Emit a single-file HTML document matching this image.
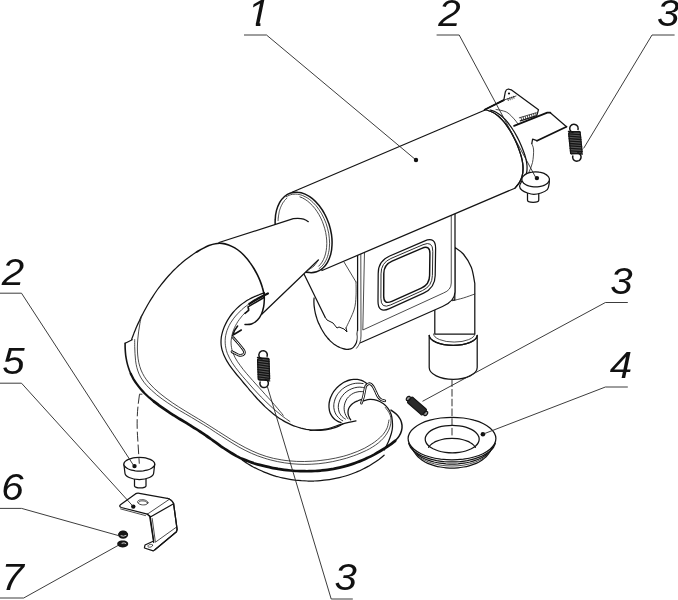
<!DOCTYPE html>
<html><head><meta charset="utf-8"><title>Exhaust system</title>
<style>
html,body{margin:0;padding:0;background:#fff;}
body{width:678px;height:600px;overflow:hidden;}
svg{display:block;}
path,ellipse,circle{stroke-linecap:round;stroke-linejoin:round;}
.m{fill:none;stroke:#141414;stroke-width:1.25;}
.mw{fill:#fff;stroke:#141414;stroke-width:1.25;}
.b{fill:none;stroke:#111;stroke-width:1.8;}
.t{fill:none;stroke:#2c2c2c;stroke-width:0.85;}
.tw{fill:#fff;stroke:#2c2c2c;stroke-width:0.85;}
.l{fill:none;stroke:#262626;stroke-width:0.9;stroke-linecap:butt;}
.d{fill:none;stroke:#262626;stroke-width:0.95;stroke-dasharray:7 4;stroke-linecap:butt;}
.w{fill:#fff;stroke:none;}
.k{fill:#111;stroke:none;}
text{font-family:"Liberation Sans",sans-serif;font-style:italic;font-size:36.6px;fill:#111;}
</style></head><body>
<svg width="678" height="600" viewBox="0 0 678 600">
<rect width="678" height="600" fill="#fff"/>
<path class="mw" d="M454.8 247.3C456.2 248.4 460.6 250.7 463.3 254C466.1 257.3 469.4 262.4 471.3 267.3C473.2 272.2 474.2 280.6 474.8 283.3L474.8 334L434.8 334L434.8 300L454.8 300Z"/>
<path class="t" d="M452.7 300.7C454.5 300.2 459.6 299.1 463.3 298C467 296.9 472.9 294.7 474.8 294"/>
<path class="mw" d="M429.2 335.3L429.2 367.5A24 11.8 0 0 0 477.2 367.5L477.2 335.3A24 10 0 0 1 429.2 335.3Z"/>
<path class="m" d="M429.2 335.3A24 10 0 0 0 477.2 335.3"/>
<path class="t" d="M433.5 334A20.5 8 0 0 0 474.8 334"/>
<path class="w" d="M304 274L314.1 298C314 298.5 313.9 300.2 313.9 301.3C313.9 302.4 314 303.5 314 304.6C314.1 305.7 314.2 306.8 314.4 307.8C314.5 308.9 314.7 310 314.9 311C315.1 312.1 315.3 313.2 315.6 314.2C315.8 315.2 316.1 316.3 316.5 317.3C316.8 318.3 317.1 319.4 317.5 320.4C317.9 321.4 318.3 322.4 318.7 323.4C319.2 324.4 319.6 325.3 320.1 326.3C320.6 327.3 321.1 328.3 321.6 329.2C322.2 330.2 322.7 331.1 323.3 332C323.9 333 324.5 333.9 325.1 334.8C325.8 335.7 326.4 336.5 327.1 337.4C327.8 338.2 328.5 339.1 329.3 339.8C330 340.6 330.8 341.4 331.6 342.1C332.4 342.8 333.2 343.5 334.1 344.2C335 344.8 335.9 345.4 336.9 346C337.8 346.5 338.8 347 339.8 347.5C340.8 347.9 341.9 348.4 343 348.7C344 349 345.1 349.2 346.2 349.3C347.2 349.4 348.3 349.4 349.3 349.2C350.3 349 351.2 348.7 352.1 348.2C353 347.7 353.8 346.9 354.4 346C355.1 345.2 355.7 344 356.2 342.9C356.6 341.9 357 340.6 357.2 339.6C357.4 338.5 357.4 337.5 357.4 336.5C357.4 335.6 357.1 334.9 357.1 333.8C357.2 332.8 357.5 330.7 357.6 330L357.6 256L329 267Z"/>
<path class="m" d="M314.1 298C314 298.5 313.9 300.2 313.9 301.3C313.9 302.4 314 303.5 314 304.6C314.1 305.7 314.2 306.8 314.4 307.8C314.5 308.9 314.7 310 314.9 311C315.1 312.1 315.3 313.2 315.6 314.2C315.8 315.2 316.1 316.3 316.5 317.3C316.8 318.3 317.1 319.4 317.5 320.4C317.9 321.4 318.3 322.4 318.7 323.4C319.2 324.4 319.6 325.3 320.1 326.3C320.6 327.3 321.1 328.3 321.6 329.2C322.2 330.2 322.7 331.1 323.3 332C323.9 333 324.5 333.9 325.1 334.8C325.8 335.7 326.4 336.5 327.1 337.4C327.8 338.2 328.5 339.1 329.3 339.8C330 340.6 330.8 341.4 331.6 342.1C332.4 342.8 333.2 343.5 334.1 344.2C335 344.8 335.9 345.4 336.9 346C337.8 346.5 338.8 347 339.8 347.5C340.8 347.9 341.9 348.4 343 348.7C344 349 345.1 349.2 346.2 349.3C347.2 349.4 348.3 349.4 349.3 349.2C350.3 349 351.2 348.7 352.1 348.2C353 347.7 353.8 346.9 354.4 346C355.1 345.2 355.7 344 356.2 342.9C356.6 341.9 357 340.6 357.2 339.6C357.4 338.5 357.4 337.5 357.4 336.5C357.4 335.6 357.1 334.9 357.1 333.8C357.2 332.8 357.5 330.7 357.6 330"/>
<path class="w" d="M357.6 255.1 L357.6 344 L361.9 342.2 L442.5 306.5 Q455 301 455 292 L455 213 Z"/>
<path class="m" d="M357.6 255.1 L357.6 330.5"/>
<path class="t" d="M360.8 253.7 L361 336 C361 341 359.5 345 356.5 348.3"/>
<path class="t" d="M364.5 252.1 L362.8 330 L443.5 293 Q451.25 290 451.25 283 L451.25 214.6"/>
<path class="m" d="M360.5 342.8 L442.5 306.5 Q455 301 455 292 L455 213"/>
<path class="m" d="M378.2 273.4Q378.2 260.9 389.7 256L424.3 241.1Q435.8 236.2 435.6 248.7L435.2 275.5Q435 288 423.6 293.1L389.4 308.6Q378 313.7 378 301.2Z"/>
<path class="t" d="M381 273.5Q381 262.7 390.9 258.5L423 244.7Q432.9 240.5 432.8 251.3L432.4 275.4Q432.2 286.2 422.4 290.6L390.7 304.9Q380.8 309.4 380.9 298.6Z" style="stroke-width:1"/>
<path class="b" d="M383.8 273.6Q383.8 264.6 392.1 261.1L421.8 248.3Q430.1 244.8 429.9 253.8L429.6 275.4Q429.5 284.4 421.3 288.1L391.8 301.3Q383.6 305 383.7 296Z" style="stroke-width:1.45"/>
<path class="m" d="M304 274L325 317"/>
<path class="t" d="M344 262L356 282"/>
<path class="t" d="M356 282C356 284.3 356.3 291.3 356 296C355.7 300.7 355.7 304.7 354 310C352.3 315.3 347.3 325 346 328"/>
<path class="m" d="M325 317L327 320L333 323L337 328L339 327L344 329L347 332L346 328" style="stroke-width:1"/>
<path class="mw" d="M292 192.3L485.7 109.7C486.7 110 490.1 111 492.1 112C494.1 112.9 495.9 114.2 497.6 115.5C499.3 116.9 500.9 118.5 502.4 120.1C503.9 121.7 505.3 123.5 506.6 125.3C507.9 127.2 509.2 129.1 510.4 131.1C511.6 133 512.7 135.1 513.7 137.2C514.8 139.2 515.8 141.4 516.7 143.5C517.6 145.7 518.4 147.9 519.2 150.1C520 152.3 520.7 154.5 521.3 156.7C521.9 158.9 522.4 161.1 522.7 163.3C523 165.5 523.1 167.7 523 169.8C523 172 522.7 174.1 522.1 176.2C521.5 178.3 520.7 180.4 519.5 182.4C518.3 184.4 515.7 187.3 514.9 188.2L322 270.5 Z"/>
<path class="mw" d="M329 224.1C330.1 227.5 330.9 231.1 331.5 234.5C332 238 332.2 241.6 332 244.9C331.9 248.2 331.5 251.5 330.7 254.4C329.9 257.3 328.8 260 327.5 262.4C326.2 264.7 324.5 266.7 322.7 268.3C320.9 269.9 318.8 271.1 316.6 271.8C314.4 272.5 312 272.8 309.6 272.6C307.2 272.5 304.6 271.8 302.1 270.7C299.7 269.6 297.2 268.1 294.8 266.2C292.5 264.3 290.2 261.9 288.1 259.3C286.1 256.7 284.1 253.8 282.5 250.7C280.8 247.6 279.4 244.1 278.2 240.7C277.1 237.3 276.3 233.7 275.7 230.3C275.2 226.8 275 223.2 275.2 219.9C275.3 216.6 275.7 213.3 276.5 210.4C277.3 207.5 278.4 204.8 279.7 202.4C281 200.1 282.7 198.1 284.5 196.5C286.3 194.9 288.4 193.7 290.6 193C292.8 192.3 295.2 192 297.6 192.2C300 192.3 302.6 193 305.1 194.1C307.5 195.2 310 196.7 312.4 198.6C314.7 200.5 317 202.9 319.1 205.5C321.1 208.1 323.1 211 324.7 214.1C326.4 217.2 327.8 220.7 329 224.1Z" style="stroke-width:1.5"/>
<path class="t" d="M286.2 196.8C286.7 196.6 288.1 195.7 289.1 195.3C290.2 194.9 291.2 194.5 292.3 194.3C293.4 194.2 294.5 194.1 295.6 194.1C296.8 194.1 297.9 194.2 299.1 194.5C300.3 194.7 301.5 195.1 302.6 195.5C303.8 196 305 196.6 306.1 197.2C307.3 197.9 308.5 198.6 309.6 199.5C310.7 200.4 311.9 201.3 312.9 202.4C314 203.4 315.1 204.5 316.1 205.7C317.1 207 318.1 208.2 319 209.6C320 210.9 320.9 212.4 321.7 213.8C322.5 215.3 323.3 216.8 324 218.4C324.7 219.9 325.4 221.6 326 223.2C326.6 224.8 327.1 226.5 327.5 228.2C328 229.8 328.4 231.5 328.7 233.2C329 234.9 329.2 236.6 329.3 238.2C329.5 239.9 329.6 241.6 329.6 243.2C329.6 244.8 329.5 246.4 329.3 247.9C329.2 249.5 329 251 328.6 252.4C328.3 253.9 328 255.3 327.5 256.6C327.1 257.9 326.5 259.2 325.9 260.4C325.4 261.5 324.7 262.6 324 263.6C323.3 264.6 322.5 265.6 321.7 266.4C320.8 267.2 319.4 268.2 319 268.6"/>
<path class="t" d="M299.9 196.9C300.3 197.1 301.7 197.5 302.5 197.9C303.4 198.4 304.2 198.8 305.1 199.4C306 199.9 306.8 200.5 307.7 201.2C308.5 201.8 309.3 202.5 310.1 203.3C310.9 204 311.7 204.8 312.5 205.7C313.3 206.5 314.1 207.4 314.8 208.4C315.5 209.3 316.2 210.3 316.9 211.3C317.6 212.3 318.3 213.4 318.9 214.5C319.5 215.6 320.1 216.7 320.7 217.9C321.2 219 321.8 220.2 322.3 221.4C322.8 222.6 323.2 223.8 323.6 225C324 226.3 324.4 227.5 324.8 228.8C325.1 230 325.4 231.3 325.7 232.5C325.9 233.8 326.1 235.1 326.3 236.3C326.5 237.6 326.6 238.8 326.7 240.1C326.7 241.3 326.8 242.5 326.8 243.7C326.8 244.9 326.7 246.1 326.6 247.3C326.5 248.4 326.4 249.6 326.2 250.7C326 251.8 325.8 252.9 325.5 253.9C325.3 255 325 256 324.6 256.9C324.3 257.9 323.9 258.8 323.4 259.7C323 260.6 322.5 261.4 322 262.2C321.5 263 321 263.7 320.4 264.4C319.8 265 318.9 265.9 318.6 266.2"/>
<path class="t" d="M286.9 198.2C286.8 198.3 286.5 198.6 286.2 198.8C286 199 285.8 199.2 285.6 199.4C285.4 199.6 285.2 199.8 285 200.1C284.8 200.3 284.6 200.5 284.4 200.7C284.3 201 284.1 201.2 283.9 201.5C283.7 201.7 283.5 202 283.3 202.2C283.2 202.5 283 202.7 282.8 203C282.7 203.3 282.5 203.6 282.3 203.8C282.2 204.1 282 204.4 281.9 204.7C281.7 205 281.6 205.3 281.4 205.6C281.3 205.9 281.2 206.2 281 206.5C280.9 206.8 280.8 207.1 280.6 207.4C280.5 207.7 280.4 208.1 280.3 208.4C280.2 208.7 280 209 279.9 209.4C279.8 209.7 279.7 210.1 279.6 210.4C279.5 210.7 279.4 211.1 279.3 211.4C279.3 211.8 279.2 212.1 279.1 212.5C279 212.9 278.9 213.2 278.9 213.6C278.8 213.9 278.7 214.3 278.7 214.7C278.6 215.1 278.5 215.4 278.5 215.8C278.4 216.2 278.4 216.6 278.4 216.9C278.3 217.3 278.3 217.7 278.2 218.1C278.2 218.5 278.2 218.9 278.2 219.3C278.1 219.7 278.1 220.3 278.1 220.5"/>
<path class="w" d="M219 243L293.3 218.7L308 221.5L318.3 260L262 314L240 300Z"/>
<path class="m" d="M219 242.5L293.3 218.7Q303 217.3 308.3 221.7"/>
<path class="m" d="M262 314L318.3 260"/>
<path class="t" d="M318.3 260C317.6 261 315.7 264.3 314 266C312.3 267.7 309 269.3 308 270"/>
<path class="w" d="M264 293.9C263.7 292.8 263 289.4 262.3 287.3C261.7 285.1 260.9 283 260.1 280.9C259.2 278.8 258.3 276.7 257.3 274.7C256.2 272.6 255.1 270.5 253.9 268.5C252.7 266.5 251.4 264.5 250 262.6C248.6 260.6 247.1 258.7 245.5 257C243.9 255.2 242.3 253.5 240.5 252C238.7 250.5 236.8 249.1 234.8 247.9C232.8 246.7 230.7 245.7 228.6 244.9C226.4 244.2 224.2 243.6 222 243.4C219.8 243.2 217.5 243.3 215.3 243.7C213.2 244 211 244.8 208.9 245.6C206.7 246.5 204.6 247.6 202.6 248.6C200.5 249.7 198.5 250.9 196.5 252.1C194.6 253.4 192.6 254.6 190.7 256C188.9 257.3 187 258.7 185.2 260.1C183.4 261.6 181.6 263.1 179.9 264.6C178.1 266.1 176.5 267.7 174.8 269.3C173.1 270.9 171.5 272.6 170 274.3C168.4 276 166.9 277.7 165.4 279.5C163.9 281.3 162.4 283.1 161 284.9C159.6 286.8 158.2 288.6 156.8 290.5C155.5 292.4 154.2 294.3 152.9 296.3C151.7 298.2 150.4 300.2 149.2 302.2C148 304.2 146.9 306.2 145.8 308.2C144.6 310.3 143.5 312.3 142.5 314.4C141.4 316.4 140.4 318.5 139.5 320.6C138.5 322.6 137.5 324.7 136.6 326.8C135.7 328.9 134.9 331 134 333.1C133.2 335.2 132 338.4 131.6 339.4L125.1 343.3C125.1 344.2 125.1 347.1 125.2 349.1C125.3 351.2 125.5 353.3 125.7 355.3C126 357.4 126.4 359.5 126.8 361.6C127.3 363.7 127.8 365.8 128.5 367.8C129.1 369.8 129.9 371.7 130.7 373.6C131.6 375.5 132.5 377.3 133.5 379.1C134.6 380.9 135.7 382.6 136.9 384.2C138.1 385.9 139.3 387.4 140.7 389C142 390.5 143.4 392 144.8 393.5C146.3 394.9 147.8 396.3 149.3 397.7C150.9 399 152.5 400.3 154.1 401.6C155.7 402.9 157.3 404.1 159 405.4C160.7 406.6 162.4 407.8 164.1 408.9C165.8 410.1 167.5 411.2 169.2 412.4C170.9 413.5 172.7 414.6 174.4 415.7C176.2 416.8 177.9 417.9 179.7 419C181.4 420 183.2 421.1 185 422.2C186.7 423.3 188.5 424.3 190.3 425.4C192 426.5 193.8 427.6 195.5 428.7C197.3 429.8 199 430.9 200.7 432C202.5 433.2 204.2 434.3 205.9 435.5C207.6 436.6 209.3 437.8 210.9 439C212.6 440.2 214.3 441.5 216 442.7C217.6 443.9 219.3 445.1 221 446.3C222.7 447.4 224.4 448.6 226.1 449.7C227.8 450.9 229.5 452 231.3 453C233 454.1 234.8 455.1 236.6 456.1C238.4 457 240.2 458 242.1 458.8C244 459.6 245.9 460.4 247.8 461.1C249.8 461.9 251.7 462.5 253.7 463.2C255.7 463.8 257.7 464.4 259.7 464.9C261.7 465.5 263.7 466 265.8 466.4C267.8 466.9 269.8 467.4 271.9 467.8C273.9 468.2 276 468.5 278 468.9C280.1 469.2 282.1 469.5 284.2 469.8C286.3 470.1 288.3 470.3 290.4 470.5C292.5 470.7 294.5 470.8 296.6 471C298.7 471.1 300.7 471.2 302.8 471.2C304.9 471.2 306.9 471.3 309 471.2C311 471.2 313.1 471.1 315.1 471C317.2 470.9 319.2 470.7 321.3 470.5C323.3 470.3 325.4 470.1 327.4 469.8C329.4 469.5 331.4 469.2 333.5 468.9C335.5 468.5 337.5 468.1 339.5 467.6C341.5 467.2 343.5 466.7 345.4 466.1C347.4 465.6 349.4 465 351.3 464.4C353.3 463.7 355.2 463.1 357.1 462.3C359.1 461.6 361 460.8 362.9 460C364.8 459.2 366.6 458.3 368.5 457.4C370.4 456.5 372.2 455.6 374.1 454.6C375.9 453.6 377.7 452.6 379.5 451.5C381.3 450.4 383.1 449.3 384.9 448.2C386.7 447 388.5 445.9 390.2 444.7C391.9 443.4 393.7 442.2 395.2 440.8C396.7 439.4 398.1 437.8 399.1 436.2C400.2 434.5 401 432.7 401.5 430.8C402 429 402.2 427.1 402 425.2C401.8 423.3 401.3 421.3 400.4 419.5C399.4 417.7 398.1 415.9 396.5 414.3C395 412.7 392 410.8 391 410.1L385 407.8C383.7 406.6 380.7 401.5 377 400.4C373.3 399.3 366.2 397.6 363 401C359.8 404.4 361.2 417 357.8 420.8C354.4 424.6 347.5 422.6 342.8 424C338.1 425.4 336.3 428.1 329.8 429C323.3 429.9 311.4 430.4 303.8 429.6C296.2 428.8 290.9 427.4 284.4 424C277.9 420.6 271.4 415.2 264.9 409.5C258.4 403.8 249.4 395 245.4 390C241.4 385 244.1 384.2 240.6 379.3C237.1 374.4 227.8 366 224.3 360.6C220.8 355.2 220 351.8 219.6 346.7C219.2 341.6 220.1 335.8 222 330.3C223.9 324.9 227.3 318.9 231.3 314C235.3 309.1 240.6 304.5 246 301C251.4 297.5 261 294.3 264 293Z"/>
<path class="b" d="M264 293.9C263.7 292.8 263 289.4 262.3 287.3C261.7 285.1 260.9 283 260.1 280.9C259.2 278.8 258.3 276.7 257.3 274.7C256.2 272.6 255.1 270.5 253.9 268.5C252.7 266.5 251.4 264.5 250 262.6C248.6 260.6 247.1 258.7 245.5 257C243.9 255.2 242.3 253.5 240.5 252C238.7 250.5 236.8 249.1 234.8 247.9C232.8 246.7 230.7 245.7 228.6 244.9C226.4 244.2 224.2 243.6 222 243.4C219.8 243.2 217.5 243.3 215.3 243.7C213.2 244 211 244.8 208.9 245.6C206.7 246.5 204.6 247.6 202.6 248.6C200.5 249.7 197.5 251.6 196.5 252.1" style="stroke-width:1.6"/>
<path class="m" d="M196.5 252.1C195.6 252.8 192.6 254.6 190.7 256C188.9 257.3 187 258.7 185.2 260.1C183.4 261.6 181.6 263.1 179.9 264.6C178.1 266.1 176.5 267.7 174.8 269.3C173.1 270.9 171.5 272.6 170 274.3C168.4 276 166.9 277.7 165.4 279.5C163.9 281.3 162.4 283.1 161 284.9C159.6 286.8 158.2 288.6 156.8 290.5C155.5 292.4 154.2 294.3 152.9 296.3C151.7 298.2 150.4 300.2 149.2 302.2C148 304.2 146.9 306.2 145.8 308.2C144.6 310.3 143.5 312.3 142.5 314.4C141.4 316.4 140.4 318.5 139.5 320.6C138.5 322.6 137.5 324.7 136.6 326.8C135.7 328.9 134.9 331 134 333.1C133.2 335.2 132 338.4 131.6 339.4"/>
<path class="m" d="M132.2 339.7L125.2 343.2"/>
<path class="m" d="M125.1 343.3C125.1 344.2 125.1 347.1 125.2 349.1C125.3 351.2 125.5 353.3 125.7 355.3C126 357.4 126.4 359.5 126.8 361.6C127.3 363.7 127.8 365.8 128.5 367.8C129.1 369.8 130.3 372.7 130.7 373.6" style="stroke-width:1.6"/>
<path class="b" d="M130.7 373.6C131.2 374.5 132.5 377.3 133.5 379.1C134.6 380.9 135.7 382.6 136.9 384.2C138.1 385.9 139.3 387.4 140.7 389C142 390.5 143.4 392 144.8 393.5C146.3 394.9 147.8 396.3 149.3 397.7C150.9 399 153.3 401 154.1 401.6" style="stroke-width:2.2"/>
<path class="b" d="M154.1 401.6C154.9 402.2 157.3 404.1 159 405.4C160.7 406.6 162.4 407.8 164.1 408.9C165.8 410.1 167.5 411.2 169.2 412.4C170.9 413.5 172.7 414.6 174.4 415.7C176.2 416.8 177.9 417.9 179.7 419C181.4 420 183.2 421.1 185 422.2C186.7 423.3 188.5 424.3 190.3 425.4C192 426.5 193.8 427.6 195.5 428.7C197.3 429.8 199 430.9 200.7 432C202.5 433.2 204.2 434.3 205.9 435.5C207.6 436.6 209.3 437.8 210.9 439C212.6 440.2 214.3 441.5 216 442.7C217.6 443.9 219.3 445.1 221 446.3C222.7 447.4 224.4 448.6 226.1 449.7C227.8 450.9 229.5 452 231.3 453C233 454.1 234.8 455.1 236.6 456.1C238.4 457 240.2 458 242.1 458.8C244 459.6 245.9 460.4 247.8 461.1C249.8 461.9 251.7 462.5 253.7 463.2C255.7 463.8 257.7 464.4 259.7 464.9C261.7 465.5 263.7 466 265.8 466.4C267.8 466.9 269.8 467.4 271.9 467.8C273.9 468.2 276 468.5 278 468.9C280.1 469.2 282.1 469.5 284.2 469.8C286.3 470.1 288.3 470.3 290.4 470.5C292.5 470.7 294.5 470.8 296.6 471C298.7 471.1 300.7 471.2 302.8 471.2C304.9 471.2 306.9 471.3 309 471.2C311 471.2 313.1 471.1 315.1 471C317.2 470.9 319.2 470.7 321.3 470.5C323.3 470.3 325.4 470.1 327.4 469.8C329.4 469.5 331.4 469.2 333.5 468.9C335.5 468.5 337.5 468.1 339.5 467.6C341.5 467.2 343.5 466.7 345.4 466.1C347.4 465.6 349.4 465 351.3 464.4C353.3 463.7 355.2 463.1 357.1 462.3C359.1 461.6 361 460.8 362.9 460C364.8 459.2 366.6 458.3 368.5 457.4C370.4 456.5 372.2 455.6 374.1 454.6C375.9 453.6 377.7 452.6 379.5 451.5C381.3 450.4 383.1 449.3 384.9 448.2C386.7 447 388.5 445.9 390.2 444.7C391.9 443.4 394.4 441.4 395.2 440.8" style="stroke-width:2.7"/>
<path class="m" d="M395.2 440.8C395.9 440 398.1 437.8 399.1 436.2C400.2 434.5 401 432.7 401.5 430.8C402 429 402.2 427.1 402 425.2C401.8 423.3 401.3 421.3 400.4 419.5C399.4 417.7 398.1 415.9 396.5 414.3C395 412.7 392 410.8 391 410.1" style="stroke-width:1.5"/>
<path class="t" d="M134.7 339.6C134.7 340.8 134.7 344.2 134.7 346.6C134.8 348.9 134.8 351.3 135 353.7C135.1 356 135.3 358.4 135.6 360.8C135.9 363.1 136.3 365.4 136.9 367.7C137.5 369.9 138.2 372.1 139.1 374.1C140 376.2 141.1 378.2 142.4 380C143.6 381.9 145.1 383.7 146.6 385.4C148.1 387.1 149.8 388.7 151.5 390.2C153.2 391.8 154.9 393.3 156.7 394.8C158.5 396.2 160.3 397.6 162.2 399C164.1 400.3 165.9 401.6 167.8 402.9C169.7 404.2 171.7 405.5 173.6 406.7C175.6 407.9 177.5 409.2 179.5 410.4C181.5 411.6 183.5 412.7 185.5 413.9C187.5 415.1 189.5 416.3 191.5 417.4C193.5 418.6 195.5 419.8 197.5 421C199.5 422.2 201.5 423.4 203.5 424.6C205.5 425.8 207.5 427.1 209.5 428.3C211.4 429.6 213.4 430.9 215.3 432.2C217.3 433.5 219.3 434.8 221.2 436C223.2 437.3 225.1 438.6 227.1 439.8C229.1 441.1 231 442.3 233 443.5C235 444.7 237 445.9 239 447.1C241.1 448.2 243.1 449.3 245.1 450.3C247.2 451.4 249.3 452.3 251.4 453.3C253.5 454.2 255.6 455.1 257.7 455.9C259.9 456.7 262 457.4 264.2 458.1C266.4 458.8 268.6 459.5 270.8 460C273 460.6 275.2 461.1 277.5 461.6C279.7 462.1 282 462.5 284.3 462.8C286.5 463.1 288.8 463.4 291.1 463.7C293.4 463.9 295.7 464.1 298 464.2C300.3 464.3 302.6 464.4 304.9 464.4C307.2 464.4 309.5 464.3 311.8 464.2C314.2 464.1 316.5 463.9 318.8 463.7C321.1 463.4 323.4 463.1 325.8 462.8C328.1 462.5 330.4 462.1 332.7 461.6C335 461.1 337.3 460.6 339.6 460C341.9 459.5 344.2 458.8 346.5 458.2C348.7 457.5 351 456.7 353.3 455.9C355.5 455.1 357.8 454.3 360 453.3C362.2 452.4 364.4 451.4 366.5 450.4C368.7 449.3 370.7 448.2 372.7 446.9C374.7 445.7 376.6 444.4 378.3 443C380.1 441.5 381.7 440 383.2 438.4C384.7 436.7 386 435 387.1 433.1C388.3 431.2 389.3 429.2 389.9 427.1C390.6 425 391.1 422.8 391 420.6C391 418.4 390.7 416.1 389.7 414C388.8 411.8 386 408.6 385.3 407.5"/>
<path class="t" d="M141.3 316.4C141.1 317.6 140.4 321.1 139.9 323.6C139.5 326 139.1 328.6 138.7 331.1C138.3 333.7 138 336.4 137.8 339C137.6 341.7 137.4 344.4 137.4 347C137.4 349.7 137.4 352.4 137.7 355C137.9 357.6 138.3 360.2 138.8 362.7C139.4 365.2 140.1 367.7 141 370C142 372.3 143.1 374.6 144.4 376.7C145.7 378.8 147.3 380.9 148.9 382.8C150.6 384.7 152.4 386.6 154.2 388.4C156.1 390.1 158 391.8 160 393.5C161.9 395.1 163.9 396.7 166 398.2C168 399.8 170.1 401.3 172.3 402.7C174.4 404.2 176.5 405.6 178.7 406.9C180.9 408.3 183.1 409.7 185.3 411C187.5 412.4 189.7 413.7 191.9 415C194.2 416.4 196.4 417.7 198.6 419C200.9 420.4 203.1 421.7 205.3 423.1C207.5 424.5 209.7 425.9 211.9 427.3C214.1 428.7 216.3 430.1 218.5 431.5C220.7 432.9 222.9 434.4 225.1 435.7C227.3 437.1 229.5 438.5 231.7 439.9C233.9 441.2 236.1 442.5 238.4 443.8C240.6 445.1 242.8 446.3 245.1 447.5C247.4 448.7 249.7 449.8 252 450.9C254.3 451.9 256.6 452.9 259 453.9C261.4 454.8 263.8 455.6 266.2 456.4C268.6 457.1 271.1 457.8 273.6 458.4C276.1 458.9 278.6 459.4 281.2 459.8C283.7 460.3 286.3 460.6 288.8 460.8C291.4 461.1 294 461.3 296.6 461.4C299.2 461.5 301.8 461.5 304.4 461.5C307.1 461.5 309.7 461.4 312.3 461.2C314.9 461.1 317.5 460.8 320.1 460.5C322.7 460.2 325.3 459.9 327.9 459.5C330.5 459.1 333.1 458.6 335.6 458.1C338.2 457.5 340.7 456.9 343.2 456.3C345.7 455.6 348.2 454.9 350.6 454C353 453.2 355.5 452.3 357.8 451.3C360.2 450.3 362.5 449.2 364.8 448.1C367 446.9 369.3 445.6 371.4 444.2C373.6 442.8 375.8 441.3 377.7 439.6C379.7 438 381.6 436.2 383.2 434.3C384.8 432.3 386.2 430.2 387.2 427.8C388.1 425.4 388.7 421.3 389 420"/>
<path class="m" d="M242.2 459.9C243.1 460.5 245.6 462.3 247.4 463.5C249.2 464.6 251 465.6 252.8 466.7C254.7 467.7 256.5 468.6 258.4 469.5C260.3 470.4 262.3 471.3 264.2 472.1C266.2 472.9 268.1 473.6 270.1 474.3C272.1 475 274.1 475.7 276.2 476.3C278.2 476.8 280.3 477.4 282.3 477.8C284.4 478.3 286.5 478.7 288.6 479.1C290.7 479.5 292.8 479.8 294.9 480.1C297 480.3 299.1 480.5 301.3 480.7C303.4 480.8 305.5 480.9 307.6 481C309.8 481 311.9 481 314 481C316.2 480.9 318.3 480.8 320.4 480.6C322.6 480.4 324.7 480.2 326.8 479.9C328.9 479.7 331 479.3 333.1 478.9C335.2 478.5 337.3 478.1 339.3 477.6C341.4 477.1 343.4 476.6 345.5 476C347.5 475.4 349.5 474.7 351.5 474C353.5 473.3 355.4 472.5 357.4 471.7C359.3 470.9 361.2 470 363.1 469C365 468.1 366.8 467.1 368.7 466.1C370.5 465 372.3 464 374 462.8C375.8 461.7 377.5 460.4 379.2 459.2C380.9 457.9 383.3 455.9 384.1 455.2"/>
<path class="m" d="M264 293C263.1 293.3 260.5 294.1 258.9 294.8C257.2 295.4 255.5 296.1 253.9 296.9C252.3 297.6 250.8 298.4 249.2 299.3C247.7 300.1 246.2 301 244.8 302C243.3 303 241.9 304 240.6 305.1C239.2 306.2 237.9 307.4 236.6 308.6C235.4 309.8 234.2 311.1 233 312.5C231.9 313.9 230.8 315.3 229.7 316.9C228.7 318.4 227.7 320 226.8 321.6C225.9 323.3 225.1 325 224.3 326.7C223.6 328.4 223 330.2 222.5 331.9C222 333.7 221.6 335.5 221.3 337.2C221.1 338.9 221 340.7 221 342.4C221 344 221.2 345.7 221.5 347.3C221.8 349 222.2 350.6 222.8 352.1C223.3 353.7 223.9 355.3 224.7 356.8C225.4 358.3 226.2 359.9 227.1 361.4C228 362.9 229 364.3 230 365.8C231 367.3 232.1 368.7 233.2 370.2C234.3 371.6 235.4 373 236.6 374.5C237.8 375.9 239 377.3 240.2 378.7C241.3 380.2 242.5 381.6 243.7 383C244.9 384.4 246.1 385.8 247.3 387.2C248.5 388.6 249.6 390 250.8 391.4C252 392.8 253.2 394.1 254.4 395.5C255.6 396.8 256.8 398.2 258 399.5C259.3 400.8 260.5 402.1 261.7 403.3C263 404.6 264.2 405.8 265.5 407.1C266.8 408.3 268.1 409.4 269.4 410.6C270.7 411.7 272 412.8 273.4 413.9C274.7 415 276.1 416 277.5 417C278.9 418 280.3 418.9 281.8 419.8C283.3 420.7 284.7 421.6 286.3 422.4C287.8 423.2 289.3 423.9 290.9 424.6C292.5 425.3 294.1 426 295.8 426.5C297.4 427.1 299.1 427.6 300.9 428.1C302.6 428.5 304.4 428.9 306.2 429.3C308 429.6 309.8 429.8 311.6 430C313.5 430.2 315.3 430.3 317.2 430.3C319 430.3 320.8 430.3 322.7 430.1C324.5 430 326.3 429.8 328 429.4C329.8 429.1 331.5 428.7 333.2 428.2C334.9 427.7 336.6 427.1 338.2 426.4C339.7 425.7 342 424.4 342.7 424"/>
<path class="t" d="M260.1 298C259.3 298.4 257 299.3 255.5 300.1C253.9 300.9 252.3 301.8 250.8 302.8C249.2 303.8 247.7 304.8 246.2 306C244.7 307.1 243.1 308.4 241.7 309.7C240.3 311 238.9 312.4 237.6 313.8C236.2 315.2 235 316.7 233.8 318.2C232.7 319.7 231.6 321.3 230.6 322.9C229.6 324.5 228.8 326.2 228.1 327.8C227.3 329.5 226.7 331.2 226.3 332.9C225.8 334.6 225.5 336.3 225.3 338C225.2 339.8 225.1 341.5 225.2 343.2C225.3 344.9 225.5 346.6 225.9 348.3C226.2 350 226.7 351.6 227.3 353.3C228 354.9 228.7 356.5 229.5 358.1C230.3 359.7 231.2 361.3 232.2 362.8C233.2 364.4 234.3 365.9 235.4 367.4C236.5 368.9 237.7 370.4 238.9 371.9C240.1 373.4 241.3 374.9 242.5 376.3C243.8 377.8 245 379.2 246.3 380.6C247.5 382.1 248.7 383.5 250 384.9C251.2 386.2 252.5 387.6 253.7 389C254.9 390.3 256.2 391.7 257.4 393C258.7 394.4 259.9 395.7 261.2 397C262.5 398.3 263.8 399.5 265 400.8C266.3 402.1 267.6 403.3 268.9 404.5C270.2 405.8 271.6 407 272.9 408.2C274.2 409.4 275.6 410.5 277 411.7C278.3 412.8 279.7 414 281.1 415.1C282.6 416.2 284 417.3 285.4 418.4C286.9 419.4 289.2 421 289.9 421.5"/>
<path class="t" d="M249.3 309C248.7 309.5 246.8 311.1 245.6 312.2C244.5 313.3 243.3 314.5 242.3 315.7C241.2 316.9 240.2 318.2 239.3 319.5C238.3 320.8 237.5 322.1 236.7 323.5C235.9 324.9 235.1 326.3 234.5 327.7C233.9 329.1 233.3 330.5 232.8 332C232.4 333.5 232 334.9 231.7 336.4C231.4 337.9 231.2 339.3 231.1 340.8C231 342.3 231 343.8 231.2 345.2C231.3 346.7 231.6 348.1 231.9 349.5C232.3 350.9 232.8 352.3 233.3 353.7C233.9 355.1 234.5 356.5 235.2 357.8C236 359.2 236.8 360.5 237.6 361.8C238.5 363.1 239.4 364.4 240.4 365.7C241.3 367 242.3 368.3 243.3 369.6C244.3 370.8 245.4 372 246.4 373.3C247.4 374.5 248.5 375.7 249.5 376.9C250.6 378.1 251.6 379.3 252.7 380.5C253.7 381.7 254.8 382.9 255.8 384C256.9 385.2 257.9 386.3 259 387.5C260 388.6 261.1 389.8 262.1 390.9C263.1 392.1 264.2 393.2 265.2 394.4C266.2 395.5 267.3 396.6 268.3 397.8C269.3 398.9 270.4 400.1 271.4 401.2C272.4 402.4 273.4 403.5 274.4 404.7C275.4 405.8 276.4 407 277.4 408.2C278.4 409.3 279.4 410.5 280.3 411.7C281.3 412.9 282.7 414.7 283.2 415.3"/>
<path class="b" d="M267.9 293.5C266.2 294.3 261.1 296.8 258 298.5C254.9 300.2 250.8 302.9 249.4 303.8" style="stroke-width:2.2"/>
<path class="b" d="M264 297.5L248 306.8L248.7 310.5L245 313.4" style="stroke-width:1.5"/>
<path class="b" d="M264.2 292.8C264.2 294 264.4 297.6 264.3 300C264.2 302.4 264.1 304.7 263.6 307C263.1 309.3 262.5 311.8 261.5 314C260.5 316.2 259.2 318.3 257.5 320C255.8 321.7 253.6 323.2 251.5 324C249.4 324.8 246.1 324.4 245 324.5" style="stroke-width:1.5"/>
<path class="w" d="M341 422.6C339.1 420.5 331.3 414.3 329.5 410.2C327.7 406.1 328.9 401.8 330.4 397.8C331.9 393.8 334.9 389.3 338.3 386.3C341.7 383.3 346.9 381.1 350.7 380C354.5 378.9 358.6 379.4 361.3 380C364 380.6 365.7 383 366.6 383.6L364 398L352 420Z"/>
<path class="m" d="M341 422.6C340.5 422.4 338.8 421.8 337.8 421.3C336.7 420.8 335.8 420.2 334.9 419.5C334 418.7 333.2 417.9 332.5 417C331.8 416.1 331.2 415.1 330.7 414.1C330.2 413.1 329.8 411.9 329.5 410.8C329.3 409.6 329.1 408.4 329 407.2C328.9 405.9 329 404.6 329.1 403.4C329.3 402.1 329.6 400.8 329.9 399.5C330.3 398.2 330.8 396.9 331.4 395.7C331.9 394.4 332.6 393.2 333.4 392C334.2 390.9 335 389.7 336 388.7C336.9 387.6 337.9 386.6 339 385.7C340 384.8 341.2 384 342.4 383.2C343.5 382.5 344.8 381.9 346 381.3C347.2 380.8 348.5 380.3 349.8 380C351 379.7 352.3 379.5 353.6 379.4C354.8 379.3 356.1 379.3 357.3 379.4C358.5 379.5 359.6 379.8 360.8 380.1C361.9 380.5 363 380.9 363.9 381.5C364.9 382.1 366.2 383.2 366.7 383.5" style="stroke-width:1.3"/>
<path class="m" d="M342.7 420.8C342.3 420.6 341.1 419.9 340.3 419.3C339.6 418.7 338.9 418.1 338.3 417.4C337.6 416.8 337 416.1 336.5 415.3C336 414.5 335.6 413.7 335.2 412.9C334.9 412.1 334.5 411.2 334.3 410.3C334.1 409.4 333.9 408.5 333.8 407.6C333.8 406.6 333.8 405.7 333.8 404.7C333.9 403.8 334 402.8 334.3 401.8C334.5 400.9 334.8 399.9 335.1 399C335.5 398.1 335.9 397.1 336.4 396.2C336.9 395.3 337.4 394.4 338.1 393.6C338.7 392.8 339.4 391.9 340.1 391.2C340.8 390.4 341.6 389.7 342.4 389C343.3 388.3 344.2 387.7 345.1 387.1C346 386.5 346.9 386 347.9 385.6C348.9 385.1 349.9 384.7 350.9 384.4C351.9 384 352.9 383.8 353.9 383.6C355 383.4 356 383.2 357.1 383.2C358.1 383.1 359.1 383.1 360.1 383.2C361.1 383.3 362.6 383.6 363.1 383.6" style="stroke-width:0.9"/>
<path class="m" d="M345.4 419C345.1 418.8 344 418.2 343.4 417.7C342.8 417.2 342.2 416.7 341.7 416.1C341.1 415.5 340.7 414.9 340.3 414.2C339.8 413.6 339.5 412.9 339.2 412.1C338.9 411.4 338.7 410.6 338.6 409.8C338.4 409.1 338.3 408.3 338.3 407.4C338.3 406.6 338.3 405.8 338.4 404.9C338.5 404.1 338.7 403.2 339 402.4C339.2 401.6 339.5 400.7 339.9 399.9C340.3 399.1 340.7 398.3 341.2 397.5C341.7 396.8 342.2 396 342.8 395.3C343.4 394.6 344.1 393.9 344.7 393.2C345.4 392.6 346.2 392 346.9 391.4C347.7 390.9 348.5 390.3 349.3 389.9C350.2 389.4 351 389 351.9 388.7C352.7 388.3 353.6 388 354.5 387.8C355.4 387.6 356.3 387.4 357.2 387.3C358.1 387.2 359 387.1 359.9 387.1C360.8 387.2 361.6 387.2 362.5 387.4C363.3 387.5 364.5 387.9 364.9 388" style="stroke-width:0.9"/>
<path class="m" d="M348.1 418.9C347.9 418.7 347.2 417.9 346.9 417.3C346.5 416.8 346.2 416.2 345.9 415.6C345.6 415 345.3 414.4 345.1 413.7C344.8 413.1 344.7 412.5 344.5 411.8C344.4 411.2 344.3 410.5 344.2 409.8C344.1 409.2 344.1 408.5 344.1 407.8C344.1 407.2 344.2 406.5 344.3 405.8C344.4 405.2 344.5 404.5 344.7 403.9C344.8 403.2 345.1 402.6 345.3 402C345.6 401.3 345.8 400.7 346.2 400.1C346.5 399.6 346.9 399 347.2 398.4C347.6 397.9 348.1 397.4 348.5 396.9C349 396.4 349.5 395.9 350 395.5C350.5 395.1 351 394.7 351.6 394.3C352.1 393.9 352.7 393.6 353.3 393.3C353.9 393 354.5 392.7 355.2 392.5C355.8 392.3 356.4 392.1 357.1 392C357.7 391.8 358.4 391.7 359.1 391.6C359.7 391.6 360.4 391.5 361.1 391.6C361.7 391.6 362.7 391.7 363.1 391.7" style="stroke-width:0.9"/>
<path class="m" d="M350.7 419.9C350.6 419.7 350.1 419 349.9 418.6C349.7 418.2 349.4 417.7 349.2 417.3C349 416.9 348.9 416.4 348.7 416C348.6 415.6 348.4 415.2 348.3 414.8C348.2 414.3 348.1 413.9 348.1 413.5C348 413.1 348 412.7 348 412.3C348 411.9 348 411.5 348.1 411.1C348.1 410.7 348.2 410.3 348.3 409.9C348.3 409.6 348.5 409.2 348.6 408.8C348.7 408.4 348.9 408.1 349.1 407.7C349.3 407.4 349.5 407 349.7 406.7C349.9 406.3 350.2 406 350.5 405.7C350.8 405.3 351.1 405 351.4 404.7C351.7 404.4 352.1 404.1 352.4 403.8C352.8 403.5 353.2 403.2 353.6 403C354 402.7 354.4 402.4 354.9 402.2C355.4 401.9 355.8 401.7 356.3 401.4C356.8 401.2 357.3 401 357.9 400.8C358.4 400.5 359 400.3 359.5 400.1C360.1 400 361 399.7 361.3 399.6"/>
<path class="m" d="M363 401C364.2 400.7 367.7 399.4 370 399.3C372.3 399.2 374.8 399.6 377 400.4C379.2 401.1 381.7 402.5 383.5 403.8C385.3 405.1 386.7 406.6 388 408.4C389.3 410.2 390.5 412.4 391.2 414.5C391.9 416.6 392.1 418.7 392.3 420.8C392.5 422.9 392.6 424.9 392.5 427C392.4 429.1 392.1 430.8 391.4 433.2C390.7 435.6 389.7 438.7 388.5 441.5C387.3 444.3 385 448.6 384.3 450"/>
<path class="m" d="M310 430.5C312.9 430.2 322.5 429.8 327.7 428.8C332.9 427.8 336.3 425.6 341 424.3C345.7 423 353.5 421.4 356 420.8"/>
<path class="m" d="M361.4 403.2C361.7 402.2 362.8 399.2 363.4 397C364 394.8 364.4 391.9 364.8 390C365.2 388.1 365.4 386.8 366 385.8C366.6 384.8 367.5 384.2 368.3 383.9C369.1 383.6 370.1 383.7 371 384.2C371.9 384.7 372.6 385.8 373.4 387C374.2 388.2 374.8 389.9 375.6 391.5C376.4 393.1 377.1 395.2 378 396.6C378.9 398 379.9 398.9 381 399.6C382.1 400.3 384.2 400.6 384.8 400.8" style="stroke-width:2.7"/>
<path class="m" d="M361.4 403.2C361.7 402.2 362.8 399.2 363.4 397C364 394.8 364.4 391.9 364.8 390C365.2 388.1 365.4 386.8 366 385.8C366.6 384.8 367.5 384.2 368.3 383.9C369.1 383.6 370.1 383.7 371 384.2C371.9 384.7 372.6 385.8 373.4 387C374.2 388.2 374.8 389.9 375.6 391.5C376.4 393.1 377.1 395.2 378 396.6C378.9 398 379.9 398.9 381 399.6C382.1 400.3 384.2 400.6 384.8 400.8" style="stroke:#fff;stroke-width:1"/>
<path class="m" d="M233.3 337.7C234.1 338.6 236.3 341 238 343C239.7 345 242.3 348.2 243.4 349.8C244.5 351.4 244.6 351.8 244.5 352.6C244.4 353.4 243.8 354.4 243 354.8C242.2 355.2 240.8 355.5 239.5 355.3C238.2 355.1 236.8 354.2 235.5 353.6C234.2 353 232.6 352 232 351.7" style="stroke-width:2.7"/>
<path class="m" d="M233.3 337.7C234.1 338.6 236.3 341 238 343C239.7 345 242.3 348.2 243.4 349.8C244.5 351.4 244.6 351.8 244.5 352.6C244.4 353.4 243.8 354.4 243 354.8C242.2 355.2 240.8 355.5 239.5 355.3C238.2 355.1 236.8 354.2 235.5 353.6C234.2 353 232.6 352 232 351.7" style="stroke:#fff;stroke-width:1"/>
<path class="b" d="M232.7 335.7Q234 330 237.6 326" style="stroke-width:1.6"/>
<path class="b" d="M234.3 334.3L241.3 330" style="stroke-width:1.6"/>
<path class="mw" d="M570 132.2Q568.5 132.4 568.7 133.9L570.6 152.7Q570.7 154.2 572.2 154L580.8 153.2Q582.3 153 582.1 151.5L580.2 132.7Q580.1 131.2 578.6 131.4Z" style="fill:#555"/>
<path class="m" d="M568.4 131.4L580.2 132.2" style="stroke-width:1.3"/>
<path class="m" d="M568.7 133.8L580.4 134.6" style="stroke-width:1.3"/>
<path class="m" d="M568.9 136.2L580.7 137.1" style="stroke-width:1.3"/>
<path class="m" d="M569.2 138.7L580.9 139.5" style="stroke-width:1.3"/>
<path class="m" d="M569.4 141.1L581.1 141.9" style="stroke-width:1.3"/>
<path class="m" d="M569.7 143.5L581.4 144.3" style="stroke-width:1.3"/>
<path class="m" d="M569.9 145.9L581.6 146.7" style="stroke-width:1.3"/>
<path class="m" d="M570.1 148.3L581.9 149.2" style="stroke-width:1.3"/>
<path class="m" d="M570.4 150.8L582.1 151.6" style="stroke-width:1.3"/>
<path class="m" d="M570.6 153.2L582.4 154" style="stroke-width:1.3"/>
<path class="m" d="M572.9 132.5C572.7 132.4 571.9 132.1 571.5 131.8C571 131.5 570.6 131.1 570.4 130.6C570.1 130.1 569.9 129.6 569.8 129.1C569.7 128.5 569.8 127.9 569.9 127.4C570 126.9 570.3 126.4 570.6 125.9C570.9 125.5 571.4 125.1 571.8 124.8C572.3 124.6 572.8 124.4 573.4 124.3C573.9 124.2 574.5 124.3 575 124.4C575.5 124.5 576 124.8 576.5 125.1C576.9 125.4 577.3 125.8 577.6 126.3C577.8 126.8 578 127.3 578.1 127.9C578.2 128.4 578 129.2 578 129.5" style="stroke-width:1.5"/>
<path class="m" d="M577.9 152.9C578.1 153 578.9 153.3 579.3 153.6C579.8 153.9 580.2 154.3 580.4 154.8C580.7 155.3 580.9 155.8 581 156.3C581.1 156.9 581 157.5 580.9 158C580.8 158.5 580.5 159 580.2 159.5C579.9 159.9 579.4 160.3 579 160.6C578.5 160.8 578 161 577.4 161.1C576.9 161.2 576.3 161.1 575.8 161C575.3 160.9 574.8 160.6 574.3 160.3C573.9 160 573.5 159.6 573.2 159.1C573 158.6 572.8 158.1 572.7 157.5C572.6 157 572.8 156.2 572.8 155.9" style="stroke-width:1.5"/>
<path class="mw" d="M259 358.5Q257.5 358.5 257.6 360L258.2 378.7Q258.3 380.2 259.8 380.2L268.2 379.8Q269.7 379.8 269.6 378.3L269 359.6Q268.9 358.1 267.4 358.1Z" style="fill:#555"/>
<path class="m" d="M257.5 357.5L268.9 359.1" style="stroke-width:1.3"/>
<path class="m" d="M257.6 359.9L269 361.5" style="stroke-width:1.3"/>
<path class="m" d="M257.6 362.3L269.1 363.9" style="stroke-width:1.3"/>
<path class="m" d="M257.7 364.7L269.2 366.3" style="stroke-width:1.3"/>
<path class="m" d="M257.8 367.2L269.3 368.7" style="stroke-width:1.3"/>
<path class="m" d="M257.9 369.6L269.4 371.1" style="stroke-width:1.3"/>
<path class="m" d="M258 372L269.5 373.6" style="stroke-width:1.3"/>
<path class="m" d="M258.1 374.4L269.6 376" style="stroke-width:1.3"/>
<path class="m" d="M258.2 376.8L269.6 378.4" style="stroke-width:1.3"/>
<path class="m" d="M258.3 379.2L269.7 380.8" style="stroke-width:1.3"/>
<path class="m" d="M261.8 358.9C261.5 358.8 260.8 358.5 260.4 358.1C259.9 357.8 259.6 357.3 259.3 356.9C259.1 356.4 258.9 355.8 258.9 355.3C258.8 354.7 258.9 354.2 259.1 353.7C259.2 353.1 259.5 352.6 259.9 352.2C260.2 351.8 260.7 351.4 261.2 351.2C261.6 351 262.2 350.8 262.7 350.8C263.3 350.7 263.9 350.8 264.4 350.9C264.9 351.1 265.4 351.4 265.8 351.7C266.2 352.1 266.6 352.6 266.8 353C267.1 353.5 267.2 354.1 267.3 354.6C267.3 355.1 267.1 356 267.1 356.2" style="stroke-width:1.5"/>
<path class="m" d="M265.4 379.4C265.7 379.5 266.4 379.8 266.8 380.2C267.3 380.5 267.6 381 267.9 381.4C268.1 381.9 268.3 382.5 268.3 383C268.4 383.6 268.3 384.1 268.1 384.6C268 385.2 267.7 385.7 267.3 386.1C267 386.5 266.5 386.9 266 387.1C265.6 387.3 265 387.5 264.5 387.5C263.9 387.6 263.3 387.5 262.8 387.4C262.3 387.2 261.8 386.9 261.4 386.6C261 386.2 260.6 385.7 260.4 385.3C260.1 384.8 260 384.2 259.9 383.7C259.9 383.2 260.1 382.3 260.1 382.1" style="stroke-width:1.5"/>
<path class="mw" d="M408 401.2Q407 402.3 408.2 403.3L420.9 414.4Q422 415.3 423 414.2L426 410.8Q427 409.7 425.8 408.7L413.1 397.6Q412 396.7 411 397.8Z" style="fill:#2a2a2a"/>
<path class="m" d="M409.5 399.5C409.4 399.7 409.2 399.8 409 400C408.9 400.1 408.7 400.2 408.5 400.3C408.3 400.4 408.2 400.5 408 400.5C407.8 400.6 407.6 400.6 407.5 400.6C407.3 400.6 407.2 400.6 407 400.5C406.9 400.5 406.8 400.4 406.7 400.3C406.5 400.3 406.5 400.1 406.4 400C406.3 399.9 406.3 399.7 406.3 399.6C406.2 399.4 406.3 399.2 406.3 399C406.3 398.9 406.4 398.7 406.4 398.5C406.5 398.3 406.6 398.1 406.7 397.9C406.8 397.7 406.9 397.6 407.1 397.4C407.2 397.2 407.4 397.1 407.5 397C407.7 396.8 407.9 396.7 408.1 396.6C408.2 396.5 408.4 396.4 408.6 396.4C408.8 396.3 408.9 396.3 409.1 396.3C409.3 396.3 409.4 396.3 409.6 396.4C409.7 396.4 409.8 396.5 409.9 396.6C410 396.7 410.1 396.8 410.2 396.9C410.2 397 410.3 397.2 410.3 397.3C410.3 397.5 410.3 397.7 410.3 397.9C410.3 398 410.2 398.2 410.2 398.4C410.1 398.6 410 398.8 409.9 399C409.8 399.2 409.6 399.3 409.5 399.5Z" style="fill:#999;stroke-width:1.2"/>
<path class="m" d="M426.9 414.6C426.8 414.8 426.6 414.9 426.5 415C426.3 415.2 426.1 415.3 425.9 415.4C425.8 415.5 425.6 415.6 425.4 415.6C425.2 415.7 425.1 415.7 424.9 415.7C424.7 415.7 424.6 415.7 424.4 415.6C424.3 415.6 424.2 415.5 424.1 415.4C424 415.3 423.9 415.2 423.8 415.1C423.8 415 423.7 414.8 423.7 414.7C423.7 414.5 423.7 414.3 423.7 414.1C423.7 414 423.8 413.8 423.8 413.6C423.9 413.4 424 413.2 424.1 413C424.2 412.8 424.4 412.7 424.5 412.5C424.6 412.3 424.8 412.2 425 412C425.1 411.9 425.3 411.8 425.5 411.7C425.7 411.6 425.8 411.5 426 411.5C426.2 411.4 426.4 411.4 426.5 411.4C426.7 411.4 426.8 411.4 427 411.5C427.1 411.5 427.2 411.6 427.3 411.7C427.5 411.7 427.5 411.9 427.6 412C427.7 412.1 427.7 412.3 427.7 412.4C427.8 412.6 427.7 412.8 427.7 413C427.7 413.1 427.6 413.3 427.6 413.5C427.5 413.7 427.4 413.9 427.3 414.1C427.2 414.3 427.1 414.4 426.9 414.6Z" style="fill:#999;stroke-width:1.2"/>
<path class="w" d="M408.2 439L413.5 450.9C414 451.3 415.2 452.8 416.2 453.7C417.3 454.5 418.5 455.4 419.7 456.2C421 457 422.5 457.8 424 458.5C425.5 459.2 427.1 459.8 428.8 460.4C430.5 461 432.3 461.5 434.1 462C436 462.4 437.9 462.8 439.9 463.1C441.8 463.4 443.8 463.6 445.9 463.8C447.9 463.9 450 464 452 464C454 464 456.1 463.9 458.1 463.8C460.2 463.6 462.2 463.4 464.1 463.1C466.1 462.8 468 462.4 469.9 462C471.7 461.5 473.5 461 475.2 460.4C476.9 459.8 478.5 459.2 480 458.5C481.5 457.8 483 457 484.3 456.2C485.5 455.4 486.7 454.5 487.8 453.7C488.8 452.8 490 451.3 490.5 450.9L495.9 439Z"/>
<path class="mw" d="M488.2 454.2C487.8 454.7 486.7 456.2 485.8 457.1C484.8 458 483.7 458.9 482.5 459.8C481.4 460.6 480 461.4 478.6 462.2C477.2 462.9 475.7 463.6 474.1 464.2C472.5 464.8 470.8 465.4 469 465.8C467.3 466.3 465.4 466.7 463.6 467C461.7 467.3 459.8 467.6 457.9 467.8C455.9 467.9 454 468 452 468C450 468 448.1 467.9 446.1 467.8C444.2 467.6 442.3 467.3 440.4 467C438.6 466.7 436.7 466.3 435 465.8C433.2 465.4 431.5 464.8 429.9 464.2C428.3 463.6 426.8 462.9 425.4 462.2C424 461.4 422.6 460.6 421.5 459.8C420.3 458.9 419.2 458 418.2 457.1C417.3 456.2 416.2 454.7 415.8 454.2L413.5 450.9L408.4 441L495.6 441L490.5 450.9Z"/>
<path class="m" d="M490.5 450.9C490 451.3 488.8 452.8 487.8 453.7C486.7 454.5 485.5 455.4 484.3 456.2C483 457 481.5 457.8 480 458.5C478.5 459.2 476.9 459.8 475.2 460.4C473.5 461 471.7 461.5 469.9 462C468 462.4 466.1 462.8 464.1 463.1C462.2 463.4 460.2 463.6 458.1 463.8C456.1 463.9 454 464 452 464C450 464 447.9 463.9 445.9 463.8C443.8 463.6 441.8 463.4 439.9 463.1C437.9 462.8 436 462.4 434.1 462C432.3 461.5 430.5 461 428.8 460.4C427.1 459.8 425.5 459.2 424 458.5C422.5 457.8 421 457 419.7 456.2C418.5 455.4 417.3 454.5 416.2 453.7C415.2 452.8 414 451.3 413.5 450.9"/>
<path class="t" d="M489.3 452.5C488.9 453 487.8 454.5 486.8 455.4C485.8 456.3 484.7 457.2 483.4 458C482.2 458.8 480.8 459.6 479.3 460.3C477.9 461 476.3 461.7 474.7 462.3C473 462.9 471.3 463.4 469.5 463.9C467.7 464.4 465.8 464.7 463.9 465.1C462 465.4 460 465.6 458 465.8C456 465.9 454 466 452 466C450 466 448 465.9 446 465.8C444 465.6 442 465.4 440.1 465.1C438.2 464.7 436.3 464.4 434.5 463.9C432.7 463.4 431 462.9 429.3 462.3C427.7 461.7 426.1 461 424.7 460.3C423.2 459.6 421.8 458.8 420.6 458C419.3 457.2 418.2 456.3 417.2 455.4C416.2 454.5 415.1 453 414.7 452.5"/>
<path class="m" d="M495.3 443.6C495 444.2 494.3 446.1 493.5 447.3C492.7 448.5 491.6 449.7 490.4 450.8C489.2 451.9 487.7 452.9 486.1 453.9C484.5 454.9 482.6 455.8 480.7 456.7C478.7 457.5 476.6 458.3 474.3 458.9C472.1 459.6 469.7 460.1 467.3 460.6C464.9 461 462.3 461.3 459.8 461.6C457.2 461.8 454.6 461.9 452 461.9C449.4 461.9 446.8 461.8 444.2 461.6C441.7 461.3 439.1 461 436.7 460.6C434.3 460.1 431.9 459.6 429.7 458.9C427.4 458.3 425.3 457.5 423.3 456.7C421.4 455.8 419.5 454.9 417.9 453.9C416.3 452.9 414.8 451.9 413.6 450.8C412.4 449.7 411.3 448.5 410.5 447.3C409.7 446.1 409 444.2 408.7 443.6"/>
<path class="mw" d="M495.9 438.6C495.9 440.4 495.4 442.3 494.4 444.1C493.4 445.9 491.9 447.7 490 449.2C488.1 450.8 485.7 452.4 483 453.7C480.4 455 477.2 456.1 473.9 457C470.7 458 467 458.7 463.4 459.2C459.7 459.6 455.8 459.9 452 459.9C448.2 459.9 444.3 459.6 440.6 459.2C437 458.7 433.3 458 430.1 457C426.8 456.1 423.6 455 421 453.7C418.3 452.4 415.9 450.8 414 449.2C412.1 447.7 410.6 445.9 409.6 444.1C408.6 442.3 408.1 440.4 408.1 438.6C408.1 436.8 408.6 434.9 409.6 433.1C410.6 431.3 412.1 429.5 414 428C415.9 426.4 418.3 424.8 421 423.5C423.6 422.2 426.8 421.1 430 420.2C433.3 419.2 437 418.5 440.6 418C444.3 417.6 448.2 417.3 452 417.3C455.8 417.3 459.7 417.6 463.4 418C467 418.5 470.7 419.2 473.9 420.2C477.2 421.1 480.4 422.2 483 423.5C485.7 424.8 488.1 426.4 490 427.9C491.9 429.5 493.4 431.3 494.4 433.1C495.4 434.9 495.9 436.8 495.9 438.6Z"/>
<path class="m" d="M479.2 439.1C479.2 440.3 478.9 441.5 478.3 442.6C477.7 443.8 476.7 444.9 475.6 446C474.4 447 472.9 448 471.3 448.8C469.6 449.6 467.7 450.4 465.7 451C463.7 451.6 461.4 452 459.2 452.3C456.9 452.6 454.5 452.8 452.2 452.8C449.9 452.8 447.5 452.6 445.2 452.3C443 452 440.7 451.6 438.7 451C436.7 450.4 434.8 449.6 433.1 448.8C431.5 448 430 447 428.8 446C427.7 444.9 426.7 443.8 426.1 442.6C425.5 441.5 425.2 440.3 425.2 439.1C425.2 437.9 425.5 436.7 426.1 435.6C426.7 434.4 427.7 433.3 428.8 432.2C430 431.2 431.5 430.2 433.1 429.4C434.8 428.6 436.7 427.8 438.7 427.2C440.7 426.6 443 426.2 445.2 425.9C447.5 425.6 449.9 425.4 452.2 425.4C454.5 425.4 456.9 425.6 459.2 425.9C461.4 426.2 463.7 426.6 465.7 427.2C467.7 427.8 469.6 428.6 471.3 429.4C472.9 430.2 474.4 431.2 475.6 432.2C476.7 433.3 477.7 434.4 478.3 435.6C478.9 436.7 479.2 437.9 479.2 439.1Z"/>
<path class="m" d="M428.6 447.3C428.9 446.9 429.8 445.6 430.6 444.9C431.4 444.1 432.5 443.3 433.6 442.7C434.7 442 436 441.4 437.4 440.9C438.8 440.3 440.3 439.9 441.9 439.5C443.5 439.2 445.2 438.9 446.8 438.7C448.5 438.5 450.3 438.4 452 438.4C453.7 438.4 455.5 438.5 457.2 438.7C458.8 438.9 460.5 439.2 462.1 439.5C463.7 439.9 465.2 440.3 466.6 440.9C468 441.4 469.3 442 470.4 442.7C471.5 443.3 472.6 444.1 473.4 444.9C474.2 445.6 475.1 446.9 475.4 447.3"/>
<path class="mw" d="M134.5 472.7 V486 A5.8 2.2 0 0 0 146 486 V472.7 Z"/>
<path class="mw" d="M123.9 464.2 L124.9 472.7 A14.4 6.8 0 0 0 153.7 472.7 L154.7 464.2 Z"/>
<path class="mw" d="M154.7 464.2C154.7 464.8 154.5 465.4 154.2 466C153.8 466.5 153.3 467.1 152.6 467.6C152 468.1 151.1 468.6 150.2 469C149.2 469.4 148.2 469.8 147 470.1C145.8 470.4 144.6 470.6 143.3 470.8C142 470.9 140.6 471 139.3 471C138 471 136.6 470.9 135.3 470.8C134 470.6 132.8 470.4 131.6 470.1C130.4 469.8 129.4 469.4 128.4 469C127.5 468.6 126.6 468.1 126 467.6C125.3 467.1 124.8 466.5 124.4 466C124.1 465.4 123.9 464.8 123.9 464.2C123.9 463.6 124.1 463 124.4 462.4C124.8 461.9 125.3 461.3 126 460.8C126.6 460.3 127.5 459.8 128.4 459.4C129.4 459 130.4 458.6 131.6 458.3C132.8 458 134 457.8 135.3 457.6C136.6 457.5 138 457.4 139.3 457.4C140.6 457.4 142 457.5 143.3 457.6C144.6 457.8 145.8 458 147 458.3C148.2 458.6 149.2 459 150.2 459.4C151.1 459.8 152 460.3 152.6 460.8C153.3 461.3 153.8 461.9 154.2 462.4C154.5 463 154.7 463.6 154.7 464.2Z"/>
<circle cx="134.5" cy="466.1" r="2.2" class="k"/>
<path class="mw" d="M177.1 529.3L173.6 503.7Q171.5 499.3 167.2 498.4L150 515L153.7 541L145 545L144.4 548L153.2 550.9L154.9 549.7L176.5 531.7Z"/>
<path class="mw" d="M139.4 493.3L167.2 498.4Q171.5 499.3 173.6 503.7L150.8 516.8L147.3 514.2L121.3 507.5Q118.4 506.4 120.8 504.5L135.4 493.9Q137 492.9 139.4 493.3Z"/>
<path class="t" d="M120.6 508.9L145.5 515.6"/>
<path class="t" d="M147.3 514.2L169.5 499.2"/>
<path class="m" d="M147.3 514.2C147.7 514.6 149.1 515.5 149.6 516.5C150.1 517.5 150.1 519.4 150.2 520L153.7 542.5"/>
<path class="t" d="M152.2 518.5L155.4 542.2L176.6 527"/>
<path class="m" d="M173.6 503.7L177.1 529.3L176.5 531.7L154.9 549.7"/>
<path class="t" d="M147.9 502.8C147.9 503 147.8 503.2 147.6 503.4C147.5 503.6 147.3 503.8 147.1 504C146.8 504.2 146.5 504.3 146.2 504.5C145.9 504.6 145.5 504.7 145.1 504.8C144.7 504.8 144.3 504.9 143.8 504.9C143.4 504.9 142.9 504.9 142.5 504.9C142 504.9 141.6 504.8 141.1 504.7C140.7 504.6 140.3 504.5 139.9 504.3C139.5 504.2 139.2 504 138.9 503.8C138.6 503.6 138.3 503.4 138.1 503.2C137.9 503 137.7 502.8 137.6 502.5C137.5 502.3 137.5 502.1 137.5 501.8C137.5 501.6 137.6 501.4 137.8 501.2C137.9 501 138.1 500.8 138.3 500.6C138.6 500.4 138.9 500.3 139.2 500.1C139.5 500 139.9 499.9 140.3 499.8C140.7 499.8 141.1 499.7 141.6 499.7C142 499.7 142.5 499.7 142.9 499.7C143.4 499.7 143.8 499.8 144.3 499.9C144.7 500 145.1 500.1 145.5 500.3C145.9 500.4 146.2 500.6 146.5 500.8C146.8 501 147.1 501.2 147.3 501.4C147.5 501.6 147.7 501.8 147.8 502.1C147.9 502.3 147.9 502.5 147.9 502.8Z"/>
<path class="t" d="M138.6 502.5C138.6 502.5 138.6 502.4 138.7 502.3C138.7 502.2 138.8 502.1 138.8 502C138.9 501.9 138.9 501.9 139 501.8C139.1 501.7 139.2 501.6 139.3 501.6C139.4 501.5 139.5 501.4 139.6 501.4C139.7 501.3 139.9 501.3 140 501.2C140.1 501.2 140.3 501.1 140.4 501.1C140.6 501.1 140.7 501 140.9 501C141.1 501 141.2 500.9 141.4 500.9C141.6 500.9 141.8 500.9 142 500.9C142.1 500.9 142.3 500.9 142.5 500.9C142.7 500.9 142.9 500.9 143.1 500.9C143.3 500.9 143.4 500.9 143.6 501C143.8 501 144 501 144.2 501.1C144.4 501.1 144.5 501.2 144.7 501.2C144.9 501.3 145 501.3 145.2 501.4C145.4 501.4 145.5 501.5 145.6 501.5C145.8 501.6 145.9 501.7 146.1 501.8C146.2 501.8 146.3 501.9 146.4 502C146.5 502.1 146.6 502.1 146.7 502.2C146.8 502.3 146.9 502.4 146.9 502.5C147 502.6 147 502.7 147.1 502.7C147.1 502.8 147.2 502.9 147.2 503C147.2 503.1 147.2 503.2 147.2 503.3"/>
<path class="t" d="M152.5 545.2C152.5 545.3 152.6 545.4 152.5 545.5C152.5 545.6 152.5 545.8 152.4 545.9C152.3 546 152.2 546.1 152.1 546.2C152 546.4 151.8 546.5 151.7 546.6C151.5 546.7 151.3 546.8 151.1 546.9C150.9 546.9 150.7 547 150.5 547.1C150.3 547.1 150.1 547.1 149.9 547.2C149.7 547.2 149.5 547.2 149.3 547.2C149.1 547.2 149 547.2 148.8 547.1C148.6 547.1 148.5 547 148.4 547C148.2 546.9 148.1 546.8 148 546.7C148 546.6 147.9 546.5 147.9 546.4C147.9 546.3 147.8 546.2 147.9 546.1C147.9 546 147.9 545.8 148 545.7C148.1 545.6 148.2 545.5 148.3 545.4C148.4 545.2 148.6 545.1 148.7 545C148.9 544.9 149.1 544.8 149.3 544.7C149.5 544.7 149.7 544.6 149.9 544.5C150.1 544.5 150.3 544.5 150.5 544.4C150.7 544.4 150.9 544.4 151.1 544.4C151.3 544.4 151.4 544.4 151.6 544.5C151.8 544.5 151.9 544.6 152 544.6C152.2 544.7 152.3 544.8 152.4 544.9C152.4 545 152.5 545.1 152.5 545.2Z"/>
<circle cx="133.3" cy="506.6" r="2.2" class="k"/>
<path class="m" d="M127.3 534.6C127.3 534.9 127.3 535.2 127.2 535.5C127.1 535.7 126.9 536 126.7 536.2C126.6 536.5 126.3 536.7 126.1 536.9C125.8 537.1 125.5 537.3 125.2 537.5C124.9 537.6 124.5 537.7 124.2 537.8C123.8 537.9 123.5 537.9 123.1 537.9C122.7 537.9 122.4 537.9 122 537.8C121.7 537.7 121.3 537.6 121 537.5C120.7 537.3 120.4 537.1 120.1 536.9C119.9 536.7 119.6 536.5 119.5 536.2C119.3 536 119.1 535.7 119 535.5C118.9 535.2 118.9 534.9 118.9 534.6C118.9 534.3 118.9 534 119 533.7C119.1 533.5 119.3 533.2 119.5 533C119.6 532.7 119.9 532.5 120.1 532.3C120.4 532.1 120.7 531.9 121 531.7C121.3 531.6 121.7 531.5 122 531.4C122.4 531.3 122.7 531.3 123.1 531.3C123.5 531.3 123.8 531.3 124.2 531.4C124.5 531.5 124.9 531.6 125.2 531.7C125.5 531.9 125.8 532.1 126.1 532.3C126.3 532.5 126.6 532.7 126.7 533C126.9 533.2 127.1 533.5 127.2 533.7C127.3 534 127.3 534.3 127.3 534.6Z" style="stroke-width:1.6;fill:#151515"/>
<path class="m" d="M121 535.8Q123.5 537 126 535.5" style="stroke:#ddd;stroke-width:0.9"/>
<path class="m" d="M127.4 543.9C127.4 544.1 127.3 544.4 127.2 544.6C127.1 544.8 127 545 126.8 545.2C126.6 545.5 126.3 545.6 126 545.8C125.7 546 125.4 546.1 125 546.2C124.7 546.4 124.3 546.4 123.9 546.5C123.5 546.6 123.1 546.6 122.7 546.6C122.3 546.6 121.9 546.6 121.5 546.5C121.1 546.4 120.7 546.4 120.4 546.2C120 546.1 119.7 546 119.4 545.8C119.1 545.6 118.8 545.5 118.6 545.2C118.4 545 118.3 544.8 118.2 544.6C118.1 544.4 118 544.1 118 543.9C118 543.7 118.1 543.4 118.2 543.2C118.3 543 118.4 542.8 118.6 542.5C118.8 542.3 119.1 542.2 119.4 542C119.7 541.8 120 541.7 120.3 541.6C120.7 541.4 121.1 541.4 121.5 541.3C121.9 541.2 122.3 541.2 122.7 541.2C123.1 541.2 123.5 541.2 123.9 541.3C124.3 541.4 124.7 541.4 125 541.6C125.4 541.7 125.7 541.8 126 542C126.3 542.2 126.6 542.3 126.8 542.5C127 542.8 127.1 543 127.2 543.2C127.3 543.4 127.4 543.7 127.4 543.9Z" style="stroke-width:1.6;fill:#1a1a1a"/>
<path class="m" d="M122 543.2Q124.2 542.2 125.8 543.4" style="stroke:#ddd;stroke-width:0.9"/>
<path class="w" d="M484.6 109.7L503.8 100.1L505.3 92Q506 89.3 508.2 89L511.2 89.8L538.5 109.7L537.3 113L519.3 118.5Z"/>
<path class="m" d="M484.6 109.7L503.8 100.1L505.3 92Q506 89.3 508.2 89L511.2 89.8L538.5 109.7L536.8 115.6L520.3 120.8"/>
<path class="b" d="M484.6 109.7L503.8 100.1"/>
<path class="t" d="M503.8 100.1L516 96"/>
<path class="t" d="M519.3 117.8L536.3 112.7"/>
<path class="t" d="M521 117.6L521.6 120.2"/>
<path class="t" d="M523.1 117L523.7 119.6"/>
<path class="t" d="M525.2 116.4L525.8 119"/>
<path class="t" d="M527.3 115.7L527.9 118.3"/>
<path class="t" d="M529.4 115.1L530 117.7"/>
<path class="t" d="M531.5 114.5L532.1 117.1"/>
<path class="t" d="M533.6 113.9L534.2 116.5"/>
<path class="t" d="M535.7 113.3L536.3 115.9"/>
<path class="t" d="M507.8 98.6L508.3 100.6"/>
<path class="t" d="M509.7 97.8L510.2 99.8"/>
<path class="t" d="M511.6 97.1L512.1 99.1"/>
<path class="t" d="M513.5 96.3L514 98.3"/>
<circle cx="509" cy="93.5" r="1.1" class="k"/>
<path class="m" d="M485.7 109.7C486.7 110 490.1 111 492.1 112C494.1 112.9 495.9 114.2 497.6 115.5C499.3 116.9 500.9 118.5 502.4 120.1C503.9 121.7 505.3 123.5 506.6 125.3C507.9 127.2 509.2 129.1 510.4 131.1C511.6 133 512.7 135.1 513.7 137.2C514.8 139.2 515.8 141.4 516.7 143.5C517.6 145.7 518.4 147.9 519.2 150.1C520 152.3 520.7 154.5 521.3 156.7C521.9 158.9 522.4 161.1 522.7 163.3C523 165.5 523.1 167.7 523 169.8C523 172 522.7 174.1 522.1 176.2C521.5 178.3 520.7 180.4 519.5 182.4C518.3 184.4 515.7 187.3 514.9 188.2"/>
<path class="m" d="M490.2 110C491.2 110.4 494.3 111.3 496.1 112.3C497.9 113.3 499.6 114.4 501.2 115.7C502.7 117 504.2 118.4 505.6 119.9C507 121.4 508.3 123.1 509.5 124.8C510.8 126.4 512 128.2 513.1 130C514.3 131.8 515.4 133.7 516.4 135.6C517.5 137.5 518.4 139.5 519.4 141.4C520.3 143.4 521.2 145.4 522 147.4C522.8 149.4 523.6 151.5 524.3 153.5C525 155.5 525.6 157.6 526.1 159.6C526.5 161.6 526.9 163.7 527 165.7C527.1 167.7 527.1 169.7 526.8 171.7C526.5 173.6 525.9 175.6 525 177.5C524.2 179.4 522.1 182.2 521.5 183.2"/>
<path class="t" d="M496 109.5C497 109.7 500 110 502 110.6C504 111.2 505.8 111.4 508 113C510.2 114.6 513 117.7 515 120C517 122.3 519.2 125.8 520 127"/>
<path class="w" d="M514.1 125.9L547.3 112.7L550.3 112.7L566.5 126.7L537 140.7L532.6 139.2Z"/>
<path class="b" d="M514.1 125.9L547.3 112.7L550.3 112.7"/>
<path class="m" d="M550.3 112.7L566.5 126.7"/>
<path class="b" d="M566.5 126.7L537 140.7"/>
<path class="m" d="M537 140.7L532.6 139.2L531.8 143.6"/>
<path class="t" d="M531.8 143.6C532.1 144.7 533.5 146.8 533.6 150C533.7 153.2 533.3 158.8 532.5 162.5C531.7 166.2 530.2 169.4 528.8 172.5C527.3 175.6 524.8 179.6 524 181"/>
<path class="mw" d="M527.5 192V200.3A5.6 2 0 0 0 538.75 200.3V192Z"/>
<path class="mw" d="M521.9 181C521.5 181.9 519.6 184.6 519.6 186.2C519.6 187.8 520.7 189.2 522 190.3C523.3 191.4 525.5 192.3 527.5 193C529.5 193.7 531.5 194.4 533.8 194.4C536 194.4 538.7 193.8 541 193C543.3 192.2 546 191 547.3 189.6C548.6 188.2 548.6 186.1 549 184.5C549.4 182.9 549.3 180.8 549.4 180Z"/>
<path class="mw" d="M549.4 179.4C549.4 180 549.2 180.7 548.9 181.3C548.6 182 548.1 182.6 547.5 183.2C546.9 183.7 546.2 184.2 545.3 184.7C544.5 185.2 543.5 185.6 542.5 185.9C541.4 186.2 540.3 186.5 539.2 186.6C538 186.8 536.8 186.9 535.6 186.9C534.4 186.9 533.2 186.8 532 186.6C530.9 186.5 529.8 186.2 528.7 185.9C527.7 185.6 526.7 185.2 525.9 184.7C525 184.2 524.3 183.7 523.7 183.2C523.1 182.6 522.6 182 522.3 181.3C522 180.7 521.9 180 521.9 179.4C521.9 178.8 522 178.1 522.3 177.5C522.6 176.8 523.1 176.2 523.7 175.7C524.3 175.1 525 174.6 525.9 174.1C526.7 173.6 527.7 173.2 528.7 172.9C529.8 172.6 530.9 172.3 532 172.2C533.2 172 534.4 171.9 535.6 171.9C536.8 171.9 538 172 539.2 172.2C540.3 172.3 541.4 172.6 542.5 172.9C543.5 173.2 544.5 173.6 545.3 174.1C546.2 174.6 546.9 175.1 547.5 175.7C548.1 176.2 548.6 176.8 548.9 177.5C549.2 178.1 549.4 178.8 549.4 179.4Z"/>
<circle cx="536.9" cy="178.1" r="2.2" class="k"/>
<circle cx="482.9" cy="434.2" r="2.3" class="k"/>
<path class="d" d="M452 379.4V437.5" style="stroke-dasharray:7.5 2.2"/>
<path class="d" d="M139.5 394.3C137.5 408 136.3 420 137.8 440L139.3 463.7" style="stroke-dasharray:9.6 3"/>
<path class="l" d="M139.3 394.2H142.4"/>
<g id="labels" style="opacity:0.999">
<clipPath id="c1" clipPathUnits="userSpaceOnUse"><path d="M240 -2H280V23H260.4V28H255.8V23H240Z"/></clipPath>
<g clip-path="url(#c1)"><text transform="translate(247.2,26.2) scale(1.1,1)">1</text></g>
<path class="l" d="M244 35H266.5L416 160"/>
<circle cx="416" cy="160" r="2.2" class="k"/>
<text transform="translate(438.3,26.2) scale(1.1,1)">2</text>
<path class="l" d="M436.6 35H459.2L536 178"/>
<text transform="translate(657,26.1) scale(1.1,1)">3</text>
<path class="l" d="M674.6 35H652L583.6 148.4"/>
<text transform="translate(610.2,293.8) scale(1.1,1)">3</text>
<path class="l" d="M627.8 302.5H605.4L422.5 401.3"/>
<text transform="translate(609.7,378.4) scale(1.1,1)">4</text>
<path class="l" d="M627.8 387H605.4L482.9 434.2"/>
<text transform="translate(1.8,284.5) scale(1.1,1)">2</text>
<path class="l" d="M0 293.2H21.5L134.3 466.5"/>
<text transform="translate(2.2,374.3) scale(1.1,1)">5</text>
<path class="l" d="M0 383.2H21.5L133.3 506.6"/>
<text transform="translate(1.2,500.1) scale(1.1,1)">6</text>
<path class="l" d="M0 508.4H21.6L118.5 535.6"/>
<text transform="translate(1.4,589.7) scale(1.1,1)">7</text>
<path class="l" d="M0 598H23.7L118 545.5"/>
<text transform="translate(334.5,590.1) scale(1.1,1)">3</text>
<path class="l" d="M352.8 599H331.2L267.5 387"/>
</g>
</svg>
</body></html>
